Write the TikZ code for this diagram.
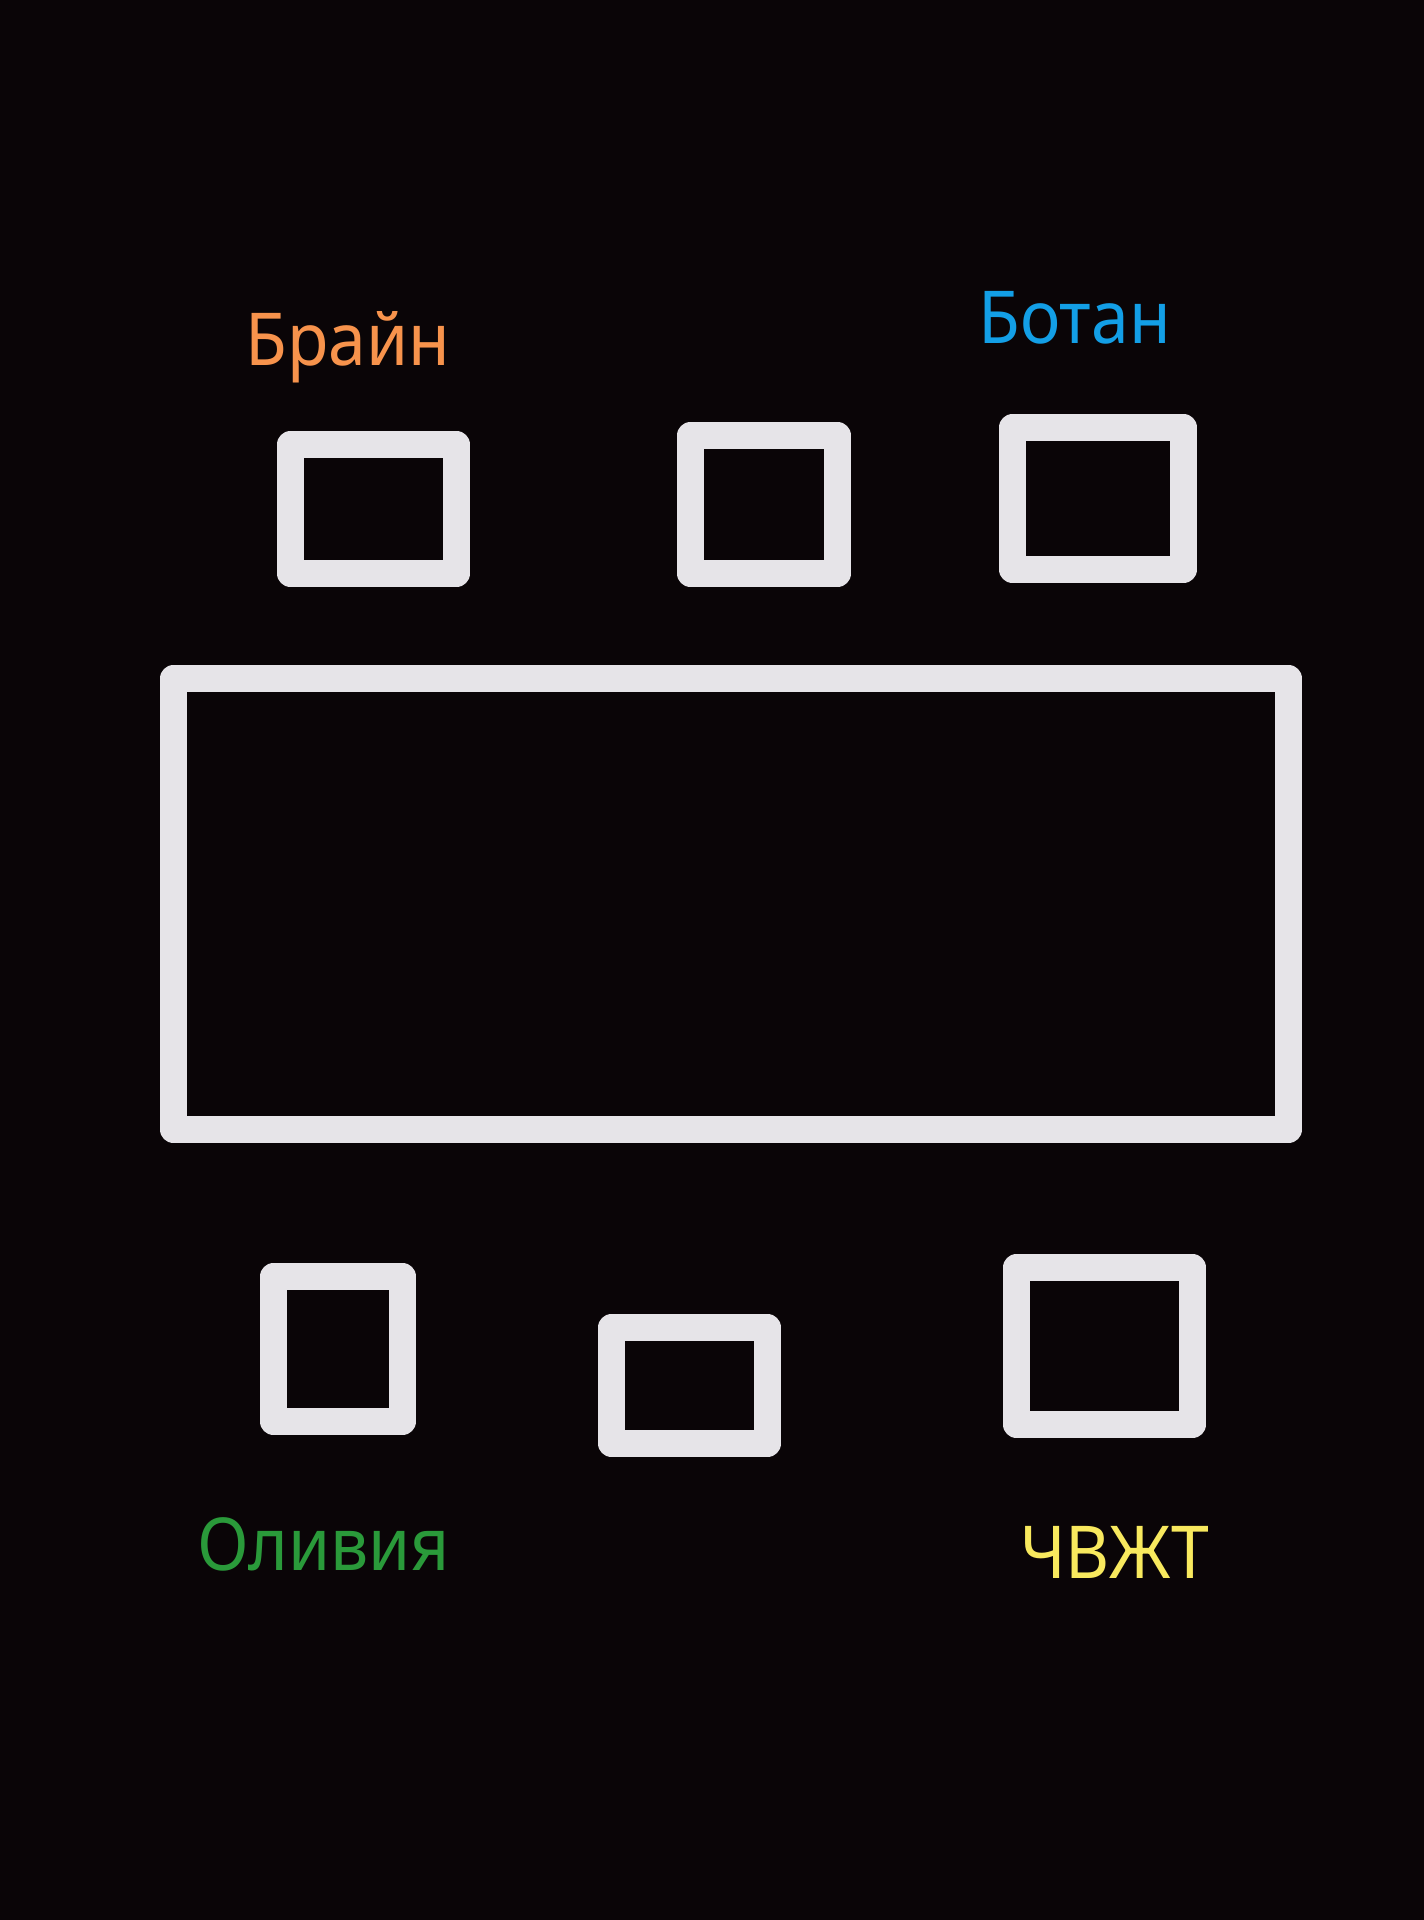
\documentclass[tikz,border=0pt]{standalone}
\usepackage{fontspec}
\setmainfont{Noto Sans}[FakeStretch=0.93]
\usetikzlibrary{positioning}

\definecolor{bgblack}{HTML}{0A0507}
\definecolor{framegray}{HTML}{E6E4E8}
\definecolor{brianorange}{HTML}{F7934C}
\definecolor{botanblue}{HTML}{139FE6}
\definecolor{oliviagreen}{HTML}{2A9A3A}
\definecolor{chvyellow}{HTML}{F8E95E}

\begin{document}
\begin{tikzpicture}[
    x=1pt, y=-1pt,
    seatbox/.style={rectangle, draw=framegray, line width=27pt, line join=round, inner sep=0pt},
    namelabel/.style={anchor=base, inner sep=0pt, font=\fontsize{73}{80}\selectfont},
    ]
      %Background
      \fill [bgblack] (0,0) rectangle (1424,1920);

      %Nodes
      \node [seatbox, minimum width=166pt, minimum height=129pt]  (A) at (373.5,509)  {};
      \node [seatbox, minimum width=147pt, minimum height=138pt]  (B) at (764,504.5)  {};
      \node [seatbox, minimum width=171pt, minimum height=142pt]  (C) at (1098,498.5) {};

      \node [seatbox, minimum width=1115pt, minimum height=451pt] (T) at (731,904)    {};

      \node [seatbox, minimum width=129pt, minimum height=145pt]  (M) at (338,1349)    {};
      \node [seatbox, minimum width=156pt, minimum height=116pt]  (N) at (689.5,1385.5) {};
      \node [seatbox, minimum width=176pt, minimum height=157pt]  (O) at (1104.5,1346) {};

      %Labels
      \node [namelabel, text=brianorange]  (brian)  at (348,365)    {Брайн};
      \node [namelabel, text=botanblue]    (botan)  at (1074.5,343) {Ботан};
      \node [namelabel, text=oliviagreen]  (olivia) at (323.5,1570) {Оливия};
      \node [namelabel, text=chvyellow]    (chvzht) at (1114.5,1578) {ЧВЖТ};
    \end{tikzpicture}
\end{document}
